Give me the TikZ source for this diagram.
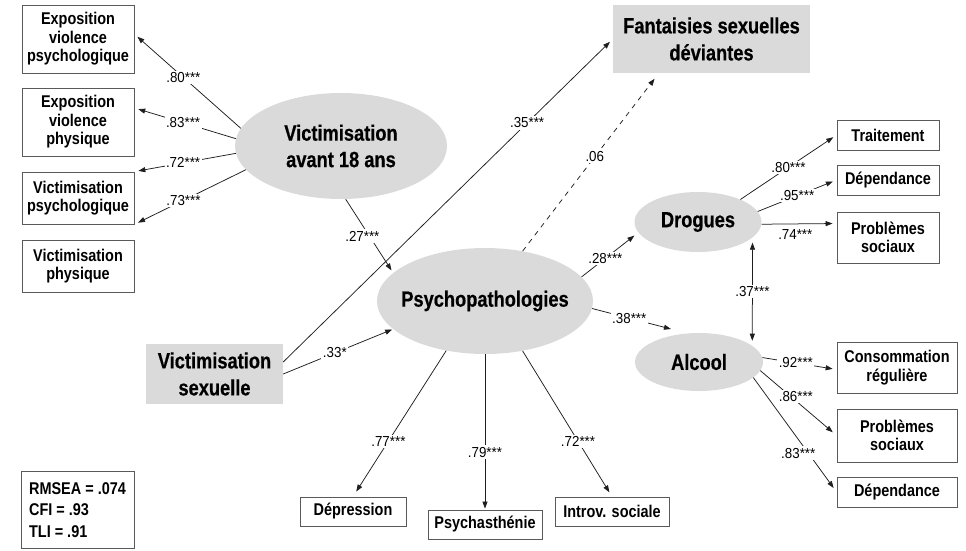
\documentclass[tikz,border=0pt]{standalone}
\usepackage{fontspec}
\setmainfont{Liberation Sans}[FakeStretch=0.85]
\newfontfamily\heavyfont{Liberation Sans}[FakeStretch=0.83,BoldFeatures={FakeBold=0.5}]
\newfontfamily\labfont{Liberation Sans}[FakeStretch=0.92]
\usetikzlibrary{shapes.geometric,arrows.meta,calc}
\definecolor{ellgray}{RGB}{218,218,219}
\definecolor{boxline}{RGB}{90,90,90}
\definecolor{linecol}{RGB}{30,30,30}
\begin{document}
\begin{tikzpicture}[x=1pt,y=-1pt,
  mbox/.style={draw=boxline,line width=0.8pt,fill=white,inner sep=0pt,align=center,
    font=\bfseries\fontsize{17}{18.5}\selectfont},
  lat/.style={ellipse,fill=ellgray,inner sep=0pt},
  lattext/.style={align=center,font=\heavyfont\bfseries\fontsize{22}{26.5}\selectfont},
  gbox/.style={fill=ellgray,inner sep=0pt,align=center,font=\heavyfont\bfseries\fontsize{22}{27}\selectfont},
  fitbox/.style={draw=boxline,line width=0.8pt,fill=white,inner sep=0pt,align=left,
    font=\bfseries\fontsize{17}{21.5}\selectfont},
  conn/.style={line width=0.75pt,draw=linecol},
  arr/.style={conn,-{Triangle[length=7pt,width=5pt]}},
  arrb/.style={conn,{Triangle[length=7pt,width=5pt]}-{Triangle[length=7pt,width=5pt]}},
  lab/.style={fill=white,inner sep=1.5pt,text=black,font=\labfont\fontsize{14.5}{17}\selectfont},
  labn/.style={inner sep=1.5pt,text=black,font=\labfont\fontsize{14.5}{17}\selectfont}
]
\useasboundingbox (0,0) rectangle (966,550);

% left indicator boxes
\node[mbox,minimum width=112,minimum height=68] (EVP) at (78,39) {Exposition\\violence\\psychologique};
\node[mbox,minimum width=112,minimum height=68] (EVPh) at (78,122) {Exposition\\violence\\physique};
\node[mbox,minimum width=112,minimum height=52] (VP) at (78,198) {Victimisation\\psychologique};
\node[mbox,minimum width=112,minimum height=52] (VPh) at (78,266) {Victimisation\\physique};

% latent variables
\node[lat,minimum width=212,minimum height=106,
  label={[lattext]center:{Victimisation\\avant 18 ans}}] (V18) at (341,146) {};
\node[lat,minimum width=216,minimum height=106,
  label={[lattext]center:Psychopathologies}] (Psy) at (485,301) {};
\node[lat,minimum width=127,minimum height=60,
  label={[lattext]center:Drogues}] (Drog) at (698,222) {};
\node[lat,minimum width=128,minimum height=58,
  label={[lattext]center:Alcool}] (Alc) at (699,362) {};

% grey observed boxes
\node[gbox,minimum width=137,minimum height=60] (VS) at (214.5,374) {Victimisation\\sexuelle};
\node[gbox,minimum width=197,minimum height=68] (FSD) at (711.5,39) {Fantaisies sexuelles\\déviantes};

% right boxes
\node[mbox,minimum width=102,minimum height=30] (Trait) at (888,135) {Traitement};
\node[mbox,minimum width=102,minimum height=30] (DepA) at (888,180) {Dépendance};
\node[mbox,minimum width=102,minimum height=51] (PSA) at (888,237.5) {Problèmes\\sociaux};
\node[mbox,minimum width=120,minimum height=51] (CR) at (897,367.5) {Consommation\\régulière};
\node[mbox,minimum width=120,minimum height=53] (PSB) at (897,435.5) {Problèmes\\sociaux};
\node[mbox,minimum width=120,minimum height=30] (DepB) at (897,492) {Dépendance};

% bottom boxes
\node[mbox,minimum width=106,minimum height=29] (Depr) at (353,511.5) {Dépression};
\node[mbox,minimum width=114,minimum height=29] (Psych) at (485,524.5) {Psychasthénie};
\node[mbox,minimum width=114,minimum height=29] (Intro) at (612,511.5) {Introv. sociale};

% fit indices
\node[fitbox,minimum width=113,minimum height=77] (Fit) at (77.5,510) {RMSEA = .074\\CFI = .93\\TLI = .91};

% connectors: Victimisation avant 18 ans
\draw[arr,shorten >=4pt] (V18.170) -- node[lab,pos=.54]{.80***} (EVP.5);
\draw[arr,shorten >=4pt] (V18.176) -- node[lab,pos=.52]{.83***} (EVPh.14);
\draw[arr,shorten >=4pt] (V18.184) -- node[lab,pos=.52]{.72***} (VP.north east);
\draw[arr,shorten >=4pt] (V18.194) -- node[lab,pos=.56]{.73***} (VP.south east);
\draw[arr,shorten >=3pt] (V18.-85) -- node[lab,pos=.5,xshift=-7pt]{.27***} (Psy.163);

% Victimisation sexuelle
\draw[arr,shorten >=1pt] (VS.east) -- node[lab,pos=.47]{.33*} (Psy.197);
\draw[arr,shorten >=4pt] ([yshift=12pt]VS.east) -- node[lab,pos=.74]{.35***} (FSD.west);

% Psychopathologies
\draw[arr,dash pattern=on 5pt off 5pt,shorten >=7pt] (Psy.53) -- node[lab,pos=.53]{.06} (FSD.213);
\draw[arr,shorten >=5pt] (Psy.14) -- node[lab,pos=.42]{.28***} (Drog.190);
\draw[arr,shorten >=17pt] (Psy.-4) -- node[lab,pos=.39]{.38***} (Alc.112);
\draw[arr,shorten >=6pt] (Psy.232) -- node[lab,pos=.62]{.77***} (Depr.north);
\draw[arr,shorten >=1pt] (Psy.south) -- node[lab,pos=.63]{.79***} (Psych.north);
\draw[arr,shorten >=5pt] (Psy.-53) -- node[lab,pos=.62]{.72***} (Intro.north);

% Drogues
\draw[arr,shorten >=4pt] (Drog.28) -- node[lab,pos=.5]{.80***} (Trait.west);
\draw[arr,shorten >=4pt] (Drog.10) -- node[lab,pos=.5]{.95***} (DepA.west);
\draw[arr,shorten >=4pt] (Drog.-2) -- node[labn,below=4pt,pos=.45]{.74***} ([yshift=14pt]PSA.west);
\draw[arrb,shorten <=5pt,shorten >=5pt] (Drog.-16) -- node[lab,pos=.5]{.37***} (Alc.17);

% Alcool
\draw[arr,shorten >=4pt] (Alc.4) -- node[lab,pos=.45]{.92***} ([yshift=-2pt]CR.west);
\draw[arr,shorten >=5pt] (Alc.-8) -- node[lab,pos=.4,xshift=5pt]{.86***} (PSB.west);
\draw[arr,shorten >=5pt] (Alc.-16) -- node[lab,pos=.66,xshift=-10pt]{.83***} (DepB.west);
\end{tikzpicture}
\end{document}
